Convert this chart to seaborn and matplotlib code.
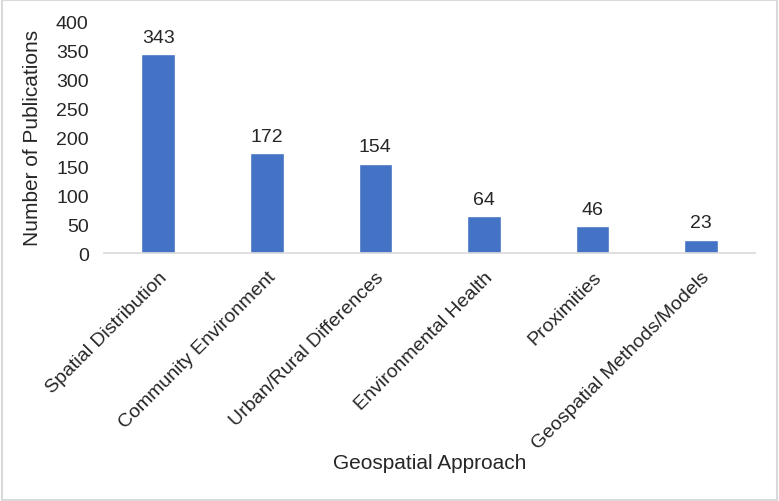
import matplotlib
matplotlib.use("Agg")
import matplotlib.pyplot as plt
import seaborn as sns
import pandas as pd

# data
approaches = ["Spatial Distribution", "Community Environment", "Urban/Rural Differences",
              "Environmental Health", "Proximities", "Geospatial Methods/Models"]
publications = [343, 172, 154, 64, 46, 23]

df = pd.DataFrame({"approach": approaches, "count": publications})

sns.set_style("white")
plt.rcParams["font.family"] = ["Liberation Sans", "DejaVu Sans"]

fig = plt.figure(figsize=(7.79, 5.02), dpi=100)
ax = fig.add_axes([0.1335, 0.494, 0.836, 0.462])

sns.barplot(data=df, x="approach", y="count", color="#4472C4", width=0.31,
            saturation=1, ax=ax)

for cont in ax.containers:
    ax.bar_label(cont, padding=6, fontsize=14)

ax.set_ylim(0, 400)
ax.set_yticks(range(0, 401, 50))
ax.tick_params(axis="y", length=0, labelsize=14, pad=11)
ax.tick_params(axis="x", length=0, labelsize=14, pad=11)
ax.set_xticks(range(len(approaches)))
ax.set_xticklabels(approaches, rotation=45, ha="right", rotation_mode="anchor")

for s in ["top", "right", "left"]:
    ax.spines[s].set_visible(False)
ax.spines["bottom"].set_color("#d9d9d9")
ax.spines["bottom"].set_linewidth(1.2)

ax.set_xlabel("")
ax.set_ylabel("Number of Publications", fontsize=15)
ax.yaxis.set_label_coords(-0.095, 0.5)
fig.text(0.552, 0.077, "Geospatial Approach", fontsize=15, ha="center", va="center")

# thin grey frame around the whole figure
fig.patches.append(plt.Rectangle((0.002, 0.002), 0.996, 0.996, transform=fig.transFigure,
                                 fill=False, edgecolor="#d9d9d9", linewidth=1.5))

fig.savefig("out.png", dpi=100)
